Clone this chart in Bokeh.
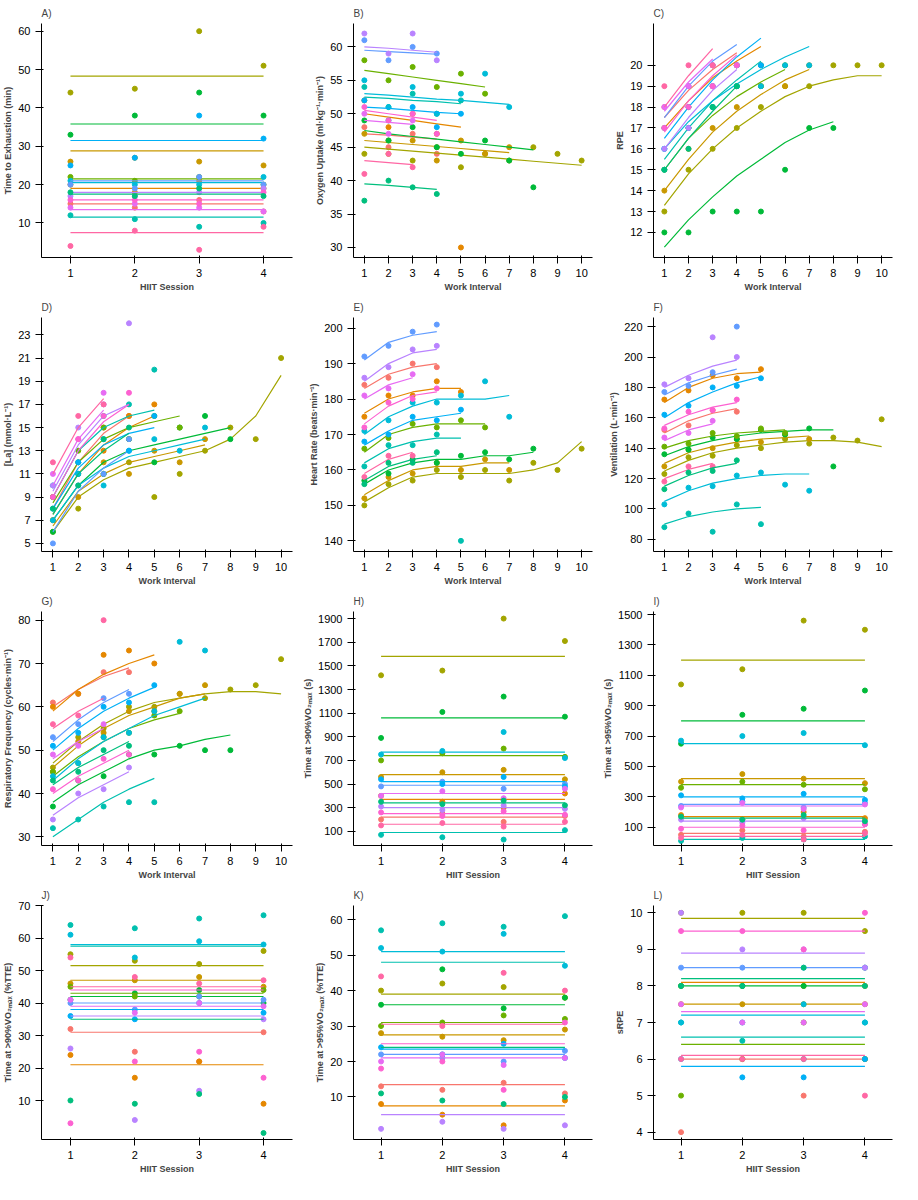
from bokeh.plotting import figure
from bokeh.layouts import gridplot
from bokeh.models import FixedTicker
from bokeh.embed import file_html
from bokeh.resources import INLINE

colors = ["#F8766D","#E58700","#A3A500","#C99800","#00BA38","#6BB100","#00C0AF","#00BCD8",
          "#619CFF","#00B0F6","#B983FF","#E76BF3","#FD61D1","#FF67A4","#00BF7D"]

sessions = [1, 2, 3, 4]

# Horizontal-line panels: per-participant fitted level + 4 session values
A_lv = [15,19,48.3,28.8,35.8,21.5,11.5,20.5,21,31.5,18,13.5,16,7.5,17.5]
A_pt = [[15,14,16,13],[20,18,21,19],[44,45,60,51],[26,27,26,25],[33,38,44,38],[22,21,22,20],[12,11,9,10],
        [21,20,20,22],[20,19,22,20],[25,27,38,32],[17,17,18,19],[14,15,14,13],[16,16,15,18],[4,8,3,9],[18,17,19,17]]
H_lv = [220,370,1580,580,1060,740,90,770,490,520,300,420,250,160,340]
H_pt = [[200,250,180,230],[400,350,300,420],[1420,1460,1900,1710],[560,600,620,540],[890,1110,1240,1070],
        [700,760,800,730],[70,50,30,110],[750,780,940,720],[480,520,460,500],[540,500,560,480],[310,280,320,290],
        [400,440,380,460],[260,230,270,240],[150,170,140,180],[350,330,360,320]]
I_lv = [60,170,1200,420,800,380,20,650,250,300,140,240,100,40,160]
I_pt = [[50,80,40,70],[180,150,200,160],[1040,1140,1460,1400],[400,450,420,390],[650,840,880,1000],
        [360,400,380,350],[10,30,20,40],[670,700,720,640],[240,270,230,260],[310,290,320,280],[150,130,160,120],
        [230,260,220,250],[90,110,80,120],[30,50,20,60],[170,150,180,140]]
J_lv = [31,21,51.5,47,42,43,57.5,58,40,38,36,39,44,45,35]
J_pt = [[32,25,22,31],[24,17,22,9],[55,53,52,56],[46,47,48,45],[41,43,44,40],[45,42,42,44],[64,63,66,67],
        [61,54,59,58],[40,38,42,41],[36,35,40,37],[26,4,13,35],[41,37,40,39],[3,22,25,17],[54,48,46,47],[10,9,12,0]]
K_lv = [13.5,7.5,39,27.5,36,31,48,51,22,23.5,5,21,25,30.5,24]
K_pt = [[13,12,14,11],[8,5,2,9],[40,42,41,38],[28,27,26,29],[36,46,35,38],[30,31,33,32],[57,59,58,61],
        [52,51,56,47],[22,21,20,23],[24,22,25,21],[1,3,1,2],[20,22,19,21],[18,20,12,31],[44,30,45,40],[11,9,8,10]]
L_lv = [6,8.1,9.85,7.5,8,6.4,6.6,7.2,8.5,5.8,8.9,7.3,9.5,6.1,8.2]
L_pt = [[4,6,5,6],[8,8,8,8],[10,10,10,9.5],[7.5,7.5,7.5,7.5],[8,8,8,8.5],[5,6,7,6],[7,6.5,6,7],[7,7,7.5,7],
        [8.5,8.5,8.5,8.5],[6,5.5,5.5,6],[10,9,9,8.5],[7.5,7,7,7.5],[9.5,9.5,9,10],[6,6,6,5],[8,8,8.5,8]]

# Curve panels: per-participant fitted values and observed values at each work interval
B_ln = [[47,46.8,46.5,46.2],[50,49.5,49,48.5,48],[45,44.7,44.4,44.1,43.8,43.5,43.2,42.9,42.6,42.3],
        [46,45.7,45.4,45.1,44.8,44.5,44.2],[47.5,47,46.6,46.2,45.8,45.4,45,44.6],[56.5,56,55.5,55,54.5,54],
        [52.5,52.3,52,51.8,51.5],[53,52.8,52.5,52.2,52,51.7,51.4],[59.5,59.3,59.1,58.9],[51,50.8,50.5,50.2,50],
        [60,59.8,59.5,59.2],[49,48.7,48.4],[50.5,50,49.5,49],[43,42.7,42.4],[39.5,39.3,39,38.7]]
B_pt = [[48,45,47,44],[52,48,50,47,30],[44,46,43,45,42,44,43,45,44,43],[47,44,46,43,46,44,45],
        [49,46,48,45,44,46,43,39],[58,55,57,54,56,53],[54,51,53,50,52],[55,51,54,50,53,56,51],[61,58,60,59],
        [52,49,51,48,50],[62,59,62,58],[50,47,49],[51,49,50,47],[41,44,42],[37,40,39,38]]
C_ln = [[17.5,18.8,19.8,20.6],[17,18.3,19.4,20.2,20.9],[13.3,14.8,16,17,17.8,18.5,19,19.3,19.5,19.5],
        [14,15.5,16.8,17.8,18.6,19.3,19.8],[11.3,12.6,13.7,14.7,15.5,16.3,16.9,17.3],[15,16.5,17.6,18.5,19.2,19.8],
        [15.5,17,18.3,19.3,20.2],[16,17.3,18.3,19.1,19.8,20.4,20.9],[17.5,19,20.2,21],[16.5,18,19.3,20.4,21.3],
        [16,17.5,18.8,19.8],[17.8,19.2,20.3],[16.8,18.3,19.5,20.5],[18,19.5,20.8],[15,16.5,17.8,19]]
C_pt = [[18,19,20,20],[17,18,19,20,20],[13,15,16,17,18,19,19,20,20,20],[14,16,17,18,19,19,20],
        [12,12,13,13,13,15,17,17],[15,17,18,19,19,20],[15,17,18,19,20],[16,17,18,19,19,20,20],[17,19,20,20],
        [16,18,19,20,20],[16,17,19,20],[18,19,20],[17,18,19,20],[19,20,20],[15,16,18,19]]
D_ln = [[8,12,14.5,16],[7.5,11,13.5,15,16],[6,9,10.5,11.5,12,12.5,13,14,16,19.5],[6.5,9.5,11,12,12.5,13,13.5],
        [7,10,12,13,13.5,14,14.5,15],[8.5,12,14,15,15.5,16],[9,13,15,16,16.5],[7,10,11.5,12.5,13,13.5,14],
        [6,9.5,11.5,13],[8,11.5,13.5,14.5,15],[9.5,13.5,16,17],[10,14,16.5],[9,13,15.5,17],[11,15,17.5],[7.5,11,13,14.5]]
D_pt = [[9,11,15,16],[7,12,13,16,17],[6,8,11,12,9,11,13,15,14,21],[7,9,12,11,13,12,14],[6,11,11,14,12,15,16,14],
        [9,13,15,14,16,15],[10,12,16,17,20],[7,11,10,13,14,13,15],[5,10,11,14],[8,12,14,13,16],[10,15,17,24],
        [11,14,18],[9,14,16,18],[12,16,17],[8,10,14,15]]
E_ln = [[183,187,189,190],[176,180,182,183,183],[151,155,158,159,159,159,159,160,162,168],
        [153,157,160,161,161,162,162],[156,160,162,163,163,164,164,165],[165,170,172,173,173,173],
        [162,166,168,169,169],[170,175,178,180,180,180,181],[191,196,198,199],[167,171,174,175,176],
        [185,190,193,194],[180,184,186],[173,178,181,182],[159,163,165],[157,161,163,164]]
E_pt = [[184,186,190,189],[175,181,181,185,182],[150,156,157,160,158,160,157,162,160,166],
        [152,158,159,162,160,163,160],[157,159,163,162,164,165,163,166],[166,169,173,172,174,172],
        [161,167,167,170,140],[171,174,179,179,181,185,175],[192,195,199,201],[168,170,175,174,177],
        [186,189,194,195],[181,183,187],[172,179,180,183],[158,164,164],[156,162,162,165]]
F_ln = [[150,158,163,166],[170,180,186,189,190],[125,132,137,140,142,144,145,145,144,141],
        [130,137,141,144,146,147,148],[135,141,145,148,150,151,152,152],[140,145,148,150,151,152],
        [90,95,98,100,101],[105,112,117,120,122,123,123],[175,183,188,192],[160,170,177,183,187],
        [180,188,194,198],[145,152,156],[155,162,167,170],[120,126,130],[115,122,127,130]]
F_pt = [[152,155,165,164],[172,178,188,186,192],[123,134,135,142,140,146,143,147,145,159],
        [128,139,140,146,144,149,146],[136,139,147,146,152,149,153,128],[141,143,150,148,153,150],
        [88,97,85,103,90],[103,114,115,122,124,116,112],[177,181,190,220],[162,168,180,181,186],
        [182,186,213,200],[147,150,158],[153,164,165,172],[118,128,128],[113,124,125,132]]
G_ln = [[60,64,67,69],[59,64,67.5,70,72],[47,52,56,59,61,62,63,63.5,63.5,63],[46,51,55,58,60,62,63],
        [38,42,45,48,50,51,52.5,53.5],[44,48.5,52,55,57,58.5],[30,34,38,41,43.5],[43,48,52,55,58,60,62],
        [52,57,61,64],[50,55,59,62,64.5],[35,39,42,45],[48,52,55],[40,44,47,50],[55,59,62],[42,46,49,52]]
G_pt = [[61,63,68,68],[60,63,72,73,70],[46,53,55,60,60,63,62,64,65,71],[45,52,54,59,59,63,65],
        [37,43,44,49,49,51,50,50],[45,47,53,54,58,59],[32,34,37,38,38],[44,47,53,54,59,75,73],
        [53,56,62,63],[51,54,60,61,65],[34,40,41,46],[49,51,56],[41,43,48,49],[56,58,80],[43,45,50,51]]

W, H = 300, 294

def base(title, ylab, xlab, yticks, xticks, yr):
    p = figure(width=W, height=H, output_backend="svg", toolbar_location=None,
               title=title, y_range=yr, x_range=(min(xticks) - 0.45, max(xticks) + 0.45))
    p.title.text_font_size = "10px"; p.title.text_font_style = "normal"; p.title.text_font = "Arial"
    p.xgrid.visible = False; p.ygrid.visible = False
    p.outline_line_color = None
    p.xaxis.axis_label = xlab; p.yaxis.axis_label = ylab
    for ax in (p.xaxis[0], p.yaxis[0]):
        ax.axis_label_text_font_style = "bold"; ax.axis_label_text_font_size = "9px"
        ax.axis_label_text_font = "Arial"; ax.major_label_text_font_size = "11px"
        ax.major_label_text_color = "black"; ax.axis_line_color = "black"
        ax.minor_tick_line_color = None; ax.axis_label_standoff = 2
    p.xaxis.ticker = FixedTicker(ticks=xticks); p.yaxis.ticker = FixedTicker(ticks=yticks)
    p.min_border_left = 5; p.min_border_right = 8; p.min_border_top = 4; p.min_border_bottom = 5
    return p

def hpanel(title, ylab, lv, pts, yticks, yr):
    p = base(title, ylab, "HIIT Session", yticks, sessions, yr)
    for i, (l, ps) in enumerate(zip(lv, pts)):
        c = colors[i % len(colors)]
        p.line([sessions[0], sessions[-1]], [l, l], color=c, line_width=1.2)
        p.scatter(sessions, ps, color=c, size=5)
    return p

def cpanel(title, ylab, lns, pts, yticks, yr):
    p = base(title, ylab, "Work Interval", yticks, list(range(1, 11)), yr)
    for i, (l, ps) in enumerate(zip(lns, pts)):
        c = colors[i % len(colors)]
        xs = list(range(1, len(l) + 1))
        p.line(xs, l, color=c, line_width=1.2)
        p.scatter(xs, ps, color=c, size=5)
    return p

panels = [
    hpanel("A)", "Time to Exhaustion (min)", A_lv, A_pt, list(range(10, 61, 10)), (1, 62)),
    cpanel("B)", "Oxygen Uptake (ml·kg⁻¹·min⁻¹)", B_ln, B_pt, list(range(30, 61, 5)), (28.5, 63.5)),
    cpanel("C)", "RPE", C_ln, C_pt, list(range(12, 21)), (10.8, 22)),
    cpanel("D)", "[La] (mmol·L⁻¹)", D_ln, D_pt, list(range(5, 24, 2)), (4.3, 24.5)),
    cpanel("E)", "Heart Rate (beats·min⁻¹)", E_ln, E_pt, list(range(140, 201, 10)), (137, 203)),
    cpanel("F)", "Ventilation (L·min⁻¹)", F_ln, F_pt, list(range(80, 221, 20)), (72, 226)),
    cpanel("G)", "Respiratory Frequency (cycles·min⁻¹)", G_ln, G_pt, list(range(30, 81, 10)), (28, 82)),
    hpanel("H)", "Time at >90%VO₂ₘₐₓ (s)", H_lv, H_pt, list(range(100, 1901, 200)), (-20, 1960)),
    hpanel("I)", "Time at >95%VO₂ₘₐₓ (s)", I_lv, I_pt, list(range(100, 1501, 200)), (-20, 1520)),
    hpanel("J)", "Time at >90%VO₂ₘₐₓ (%TTE)", J_lv, J_pt, list(range(10, 71, 10)), (-2, 70)),
    hpanel("K)", "Time at >95%VO₂ₘₐₓ (%TTE)", K_lv, K_pt, list(range(10, 61, 10)), (-2, 64)),
    hpanel("L)", "sRPE", L_lv, L_pt, list(range(4, 11)), (3.8, 10.2)),
]

grid = gridplot([panels[0:3], panels[3:6], panels[6:9], panels[9:12]], toolbar_location=None)
open("out.html", "w").write(file_html(grid, INLINE))
